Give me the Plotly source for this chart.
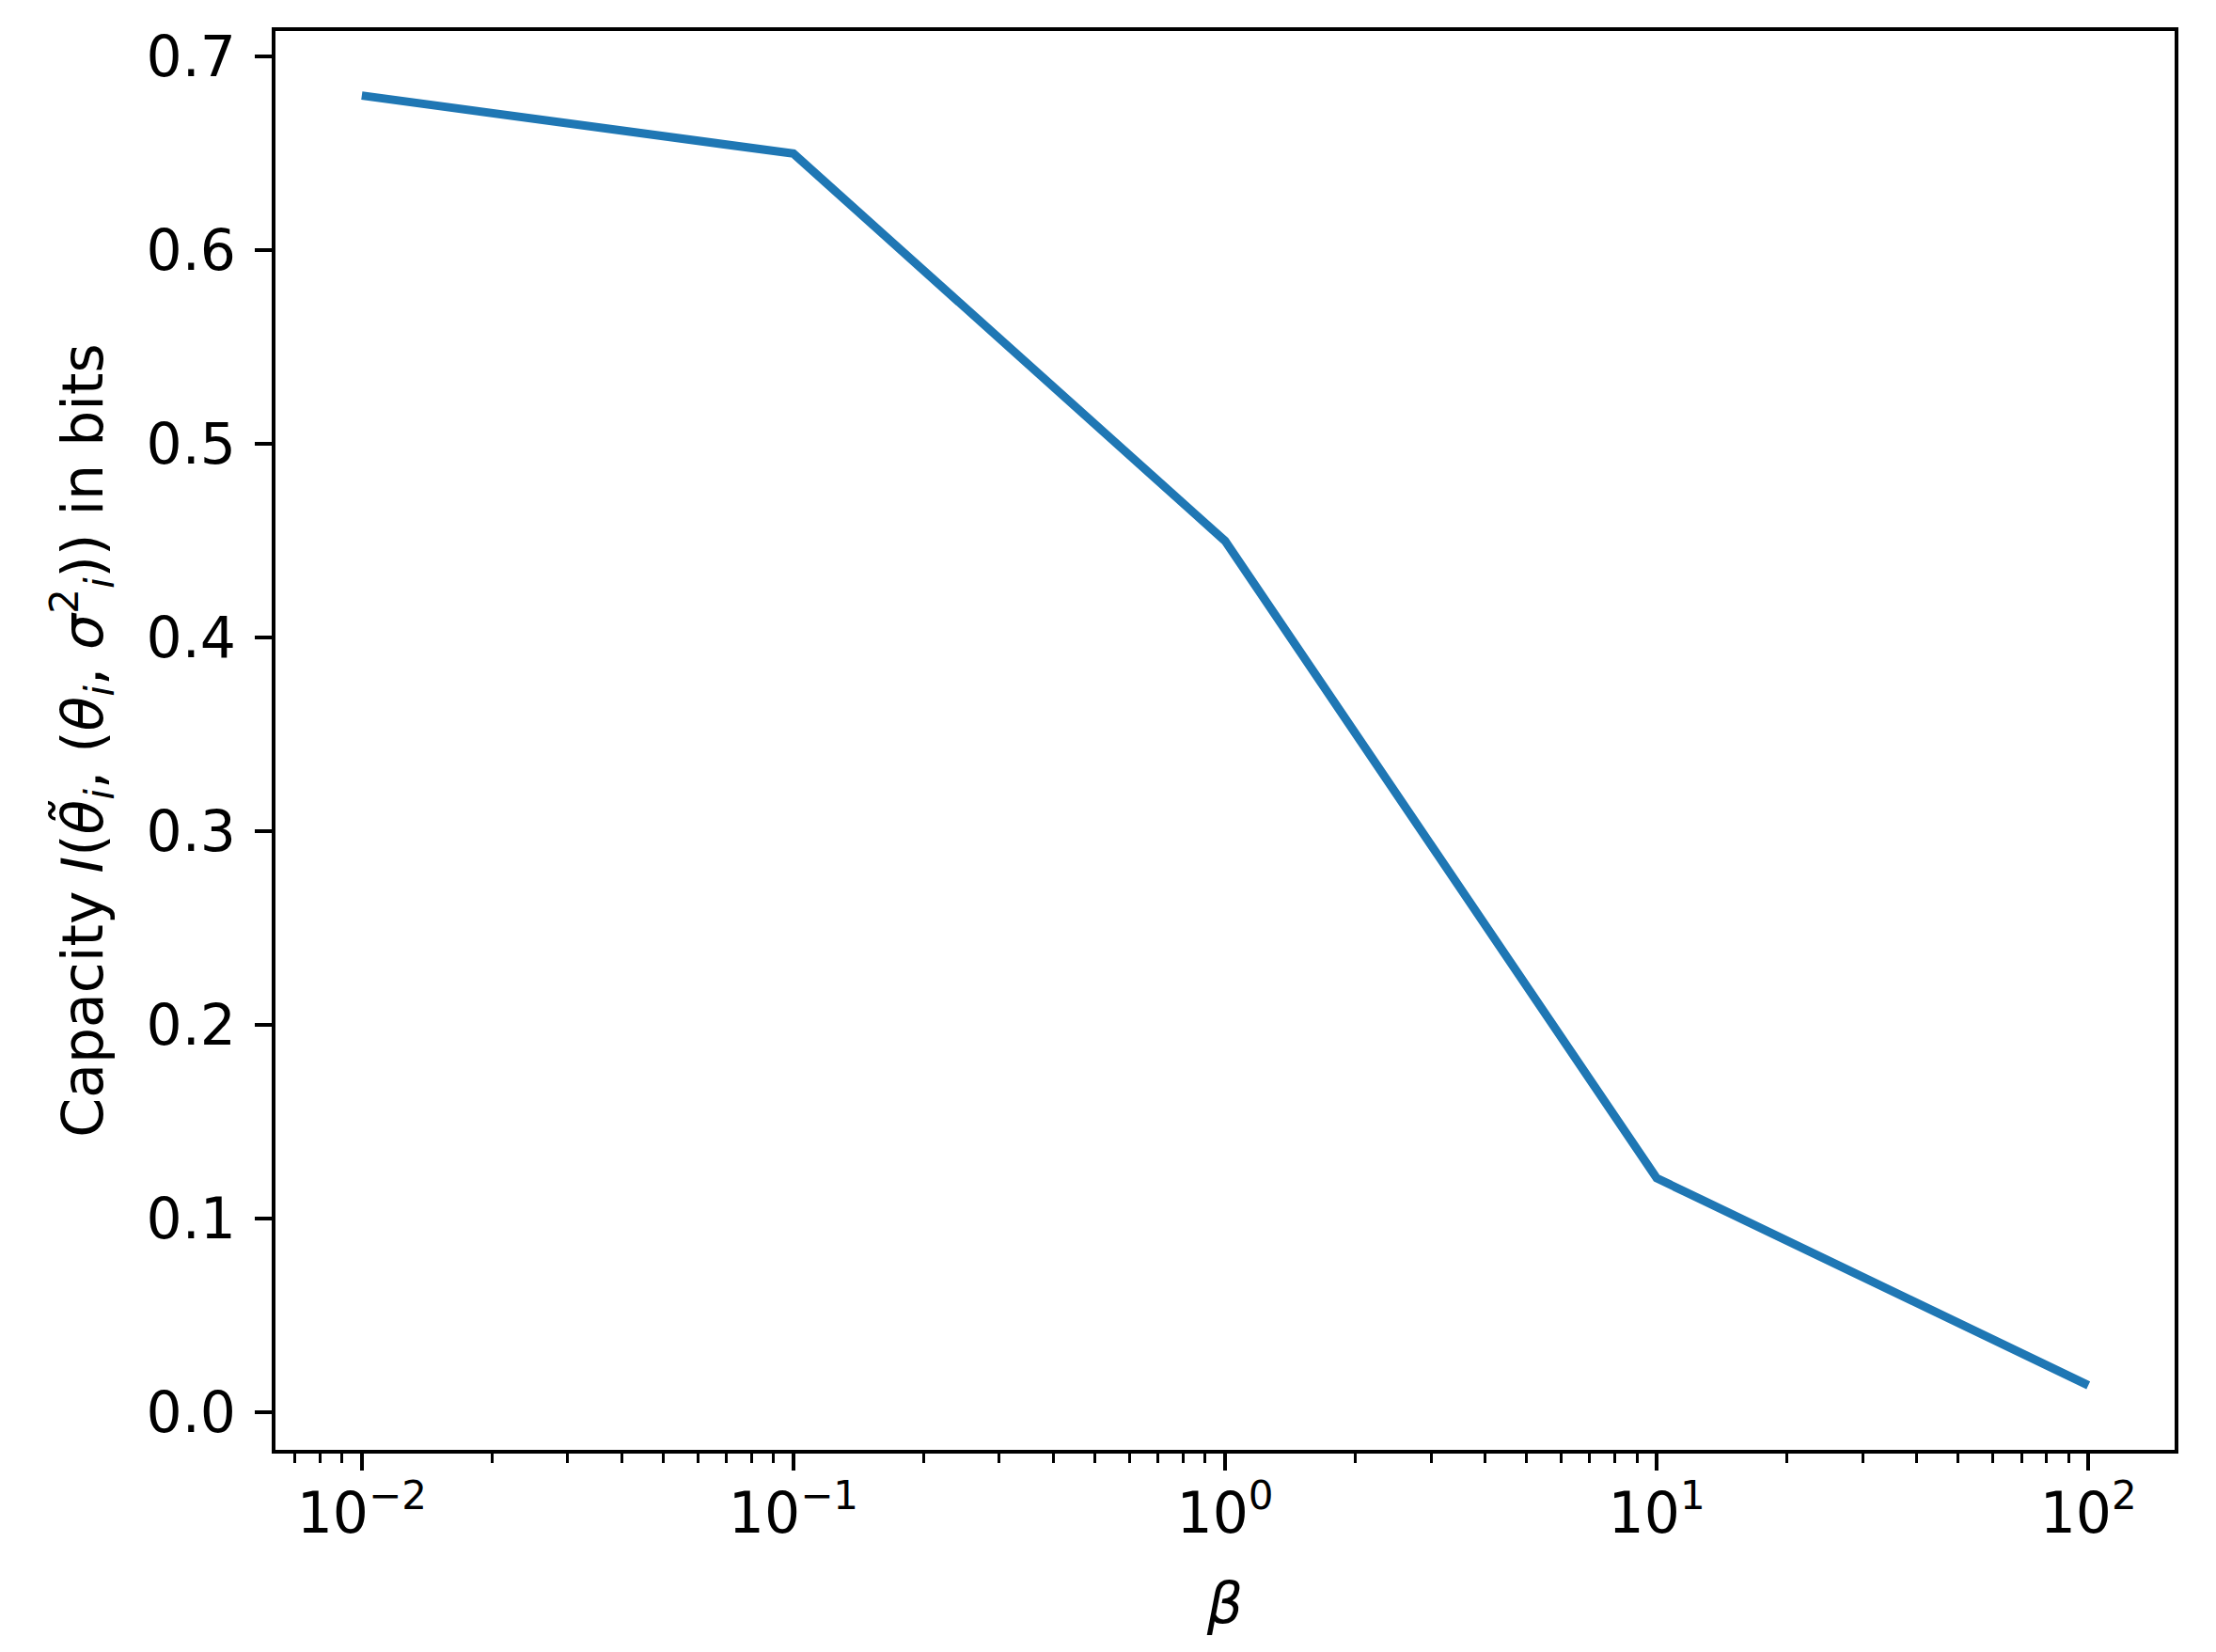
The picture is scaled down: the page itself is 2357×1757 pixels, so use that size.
import plotly.graph_objects as go

beta = [0.01, 0.1, 1, 10, 100]
capacity = [0.680, 0.650, 0.450, 0.121, 0.014]

x_tick_vals = [0.01, 0.1, 1, 10, 100]
x_tick_text = ["10<sup>−2</sup>", "10<sup>−1</sup>", "10<sup>0</sup>", "10<sup>1</sup>", "10<sup>2</sup>"]
y_tick_vals = [0.0, 0.1, 0.2, 0.3, 0.4, 0.5, 0.6, 0.7]
y_tick_text = ["0.0", "0.1", "0.2", "0.3", "0.4", "0.5", "0.6", "0.7"]

minor_vals = [k * 10.0 ** e for e in range(-3, 3) for k in range(2, 10)]
minor_vals = [v for v in minor_vals if 10 ** -2.2 <= v <= 10 ** 2.2]

FONT = "DejaVu Sans"

fig = go.Figure()
fig.add_trace(go.Scatter(
    x=beta, y=capacity, mode="lines",
    line=dict(color="#1f77b4", width=9),
))

fig.update_layout(
    width=2357, height=1757,
    margin=dict(l=285, r=52, t=25, b=223),
    paper_bgcolor="white", plot_bgcolor="white",
    font=dict(family=FONT, size=60, color="black"),
    showlegend=False,
)

fig.update_xaxes(
    type="log", range=[-2.2, 2.2],
    tickmode="array", tickvals=x_tick_vals, ticktext=x_tick_text,
    ticks="outside", ticklen=18, tickwidth=4, tickcolor="black",
    showline=True, linecolor="black", linewidth=4, mirror=True,
    showgrid=False, zeroline=False,
    tickfont=dict(family=FONT, size=60),
    ticklabelstandoff=-6,
    minor=dict(tickmode="array", tickvals=minor_vals, ticks="outside",
               ticklen=10, tickwidth=3, tickcolor="black", showgrid=False),
    title=dict(text="<i>β</i>", font=dict(family=FONT, size=60), standoff=42),
)

fig.update_yaxes(
    range=[-0.0193, 0.7133],
    tickmode="array", tickvals=y_tick_vals, ticktext=y_tick_text,
    ticks="outside", ticklen=18, tickwidth=4, tickcolor="black",
    showline=True, linecolor="black", linewidth=4, mirror=True,
    showgrid=False, zeroline=False,
    tickfont=dict(family=FONT, size=60),
    ticklabelstandoff=8,
    title=dict(
        text="Capacity <i>I</i>(<i>θ̃</i><sub><i>i</i></sub>, (<i>θ</i><sub><i>i</i></sub>, <i>σ</i><sup>2</sup><sub><i>i</i></sub>)) in bits",
        font=dict(family=FONT, size=60), standoff=28),
)

fig.write_html("out.html")
